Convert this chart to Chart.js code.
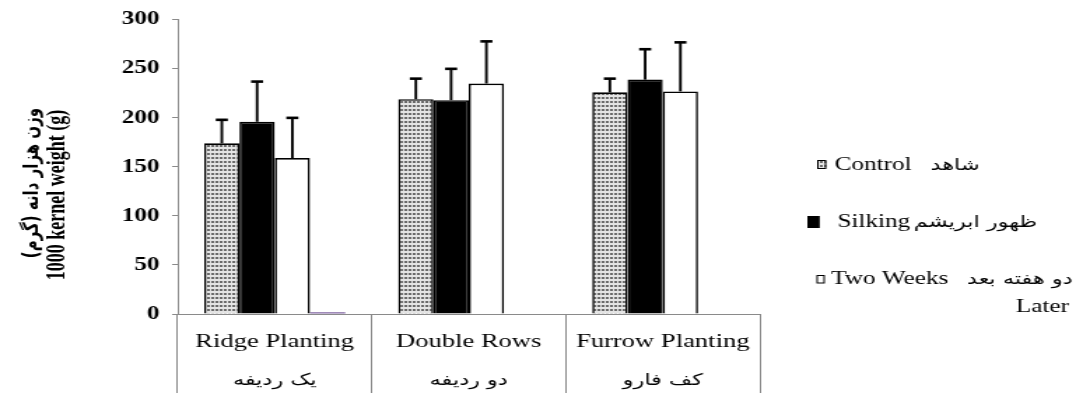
<!DOCTYPE html>
<html>
<head>
<meta charset="utf-8">
<script src="https://cdn.jsdelivr.net/npm/chart.js@4/dist/chart.umd.min.js"></script>
<style>
  html, body { margin: 0; padding: 0; background: #fff; overflow: hidden; width: 1076px; height: 393px; }
  /* the figure is laid out narrow and widened to the full page width */
  #wrap { position: absolute; left: 0; top: 0; width: 769px; height: 393px; transform: scaleX(1.39922); transform-origin: 0 0; }
  canvas { display: block; }
</style>
</head>
<body>
<div id="wrap"><canvas id="chart" width="769" height="393"></canvas></div>
<script>
// Planting methods (English / Persian)
const categoriesEn = ['Ridge Planting', 'Double Rows', 'Furrow Planting'];
const categoriesFa = ['یک ردیفه', 'دو ردیفه', 'کف فارو'];

// 1000 kernel weight (g) per treatment
const controlVals  = [174, 219, 226];
const silkingVals  = [196, 218, 239];
const twoWeeksVals = [159, 235, 227];
const extraVals    = [1.7, 0, 0];

// standard error (upper whisker only)
const controlErr  = [24, 21, 14];
const silkingErr  = [41, 32, 31];
const twoWeeksErr = [41, 43, 50];

const yTicks = [0, 50, 100, 150, 200, 250, 300];

// legend lines: [English, Persian], with an optional wrapped line
const legendEn = ['Control', 'Silking', 'Two Weeks'];
const legendFa = ['شاهد', 'ظهور ابریشم', 'دو هفته بعد'];
const legendWrap = ['', '', 'Later'];

const yTitleEn = '1000 kernel weight (g)';
const yTitleFa = 'وزن هزار دانه (گرم)';

const AXIS = '#8a8a8a';
const SERIF = "'Liberation Serif', 'Times New Roman', serif";
const FA = "'DejaVu Sans', sans-serif";

function dotPattern() {
  const t = document.createElement('canvas');
  t.width = 3; t.height = 4;
  const g = t.getContext('2d');
  g.fillStyle = '#e4e4e4';
  g.fillRect(0, 0, 3, 4);
  g.fillStyle = '#6a6a6a';
  g.fillRect(1, 1, 2, 2);
  return g.createPattern(t, 'repeat');
}
const dots = dotPattern();

const errorBars = {
  id: 'errorBars',
  afterDatasetsDraw(chart) {
    const ctx = chart.ctx;
    const y = chart.scales.y;
    chart.data.datasets.forEach((ds, i) => {
      if (!ds.errors) return;
      const meta = chart.getDatasetMeta(i);
      meta.data.forEach((bar, j) => {
        const top = y.getPixelForValue(ds.data[j] + ds.errors[j]);
        ctx.save();
        ctx.strokeStyle = '#000';
        ctx.lineWidth = 1.9;
        ctx.beginPath();
        ctx.moveTo(bar.x, bar.y);
        ctx.lineTo(bar.x, top);
        ctx.stroke();
        ctx.fillStyle = '#000';
        ctx.fillRect(bar.x - 4.3, top - 1.3, 8.6, 2.6);
        ctx.restore();
      });
    });
  }
};

const sideText = {
  id: 'sideText',
  afterDraw(chart) {
    const ctx = chart.ctx;
    const area = chart.chartArea;
    const xs = chart.scales.x;

    // Persian second line under each category name
    ctx.save();
    ctx.fillStyle = '#000';
    ctx.textAlign = 'center';
    ctx.textBaseline = 'middle';
    ctx.direction = 'rtl';
    ctx.font = '16px ' + FA;
    categoriesFa.forEach((t, i) => ctx.fillText(t, xs.getPixelForValue(i), 381));
    ctx.restore();

    // rotated axis title, two lines
    ctx.save();
    ctx.fillStyle = '#000';
    ctx.textAlign = 'center';
    ctx.textBaseline = 'middle';
    ctx.translate(41, 195);
    ctx.rotate(-Math.PI / 2);
    ctx.font = 'bold 18px ' + SERIF;
    ctx.fillText(yTitleEn, 0, 0);
    ctx.restore();
    ctx.save();
    ctx.fillStyle = '#000';
    ctx.textAlign = 'center';
    ctx.textBaseline = 'middle';
    ctx.direction = 'rtl';
    ctx.translate(23.5, 183);
    ctx.rotate(-Math.PI / 2);
    ctx.font = 'bold 15px ' + FA;
    ctx.fillText(yTitleFa, 0, 0);
    ctx.restore();

    // legend
    const x0 = area.right + 34;
    const rows = [
      { y: 165, box: [x0 + 7, 160, 6.5, 9], en: x0 + 19.5, fa: x0 + 88 },
      { y: 222, box: [x0, 216, 8.6, 12], en: x0 + 21.5, fa: x0 + 76 },
      { y: 279, box: [x0 + 6.5, 275, 6, 8.5], en: x0 + 17, fa: x0 + 114 }
    ];
    const fills = [dots, '#000', '#fff'];
    rows.forEach((r, i) => {
      ctx.save();
      const [bx, by, bw, bh] = r.box;
      ctx.fillStyle = fills[i];
      ctx.fillRect(bx, by, bw, bh);
      ctx.strokeStyle = '#000';
      ctx.lineWidth = 1;
      ctx.strokeRect(bx + 0.5, by + 0.5, bw - 1, bh - 1);
      ctx.fillStyle = '#000';
      ctx.textBaseline = 'middle';
      ctx.textAlign = 'left';
      ctx.font = '18px ' + SERIF;
      ctx.fillText(legendEn[i], r.en, r.y);
      ctx.direction = 'rtl';
      ctx.font = '16px ' + FA;
      ctx.fillText(legendFa[i], r.fa, r.y + 1);
      if (legendWrap[i]) {
        ctx.direction = 'ltr';
        ctx.textAlign = 'right';
        ctx.font = '18px ' + SERIF;
        ctx.fillText(legendWrap[i], chart.width - 5, r.y + 28);
      }
      ctx.restore();
    });
  }
};

new Chart(document.getElementById('chart'), {
  type: 'bar',
  data: {
    labels: categoriesEn,
    datasets: [
      { label: 'Control', data: controlVals, errors: controlErr, backgroundColor: dots, borderColor: '#000', borderWidth: 1.6 },
      { label: 'Silking', data: silkingVals, errors: silkingErr, backgroundColor: '#000', borderColor: '#000', borderWidth: 1.6 },
      { label: 'Two Weeks Later', data: twoWeeksVals, errors: twoWeeksErr, backgroundColor: '#fff', borderColor: '#000', borderWidth: 1.6 },
      { label: '', data: extraVals, backgroundColor: '#8064A2', borderWidth: 0 }
    ]
  },
  options: {
    responsive: false,
    animation: false,
    devicePixelRatio: 1,
    layout: { padding: { top: 17, right: 226, left: 0, bottom: 0 } },
    datasets: { bar: { categoryPercentage: 0.727, barPercentage: 1.0 } },
    plugins: { legend: { display: false }, tooltip: { enabled: false } },
    scales: {
      x: {
        grid: { offset: true, drawOnChartArea: false, drawTicks: true, tickLength: 79, color: AXIS, lineWidth: 1 },
        border: { display: true, color: AXIS, width: 1 },
        ticks: {
          color: '#000',
          padding: -62.4,
          maxRotation: 0,
          autoSkip: false,
          font: { family: SERIF, size: 19, lineHeight: 1.2 }
        },
        afterFit: s => { s.height = 79; }
      },
      y: {
        min: 0, max: 300,
        afterBuildTicks: s => { s.ticks = yTicks.map(v => ({ value: v })); },
        grid: { drawOnChartArea: false, drawTicks: true, tickLength: 4, color: AXIS, lineWidth: 1 },
        border: { display: true, color: AXIS, width: 1 },
        ticks: { color: '#000', padding: 9, font: { family: SERIF, size: 18, weight: 'bold' } },
        afterFit: s => { s.width = 127; }
      }
    }
  },
  plugins: [errorBars, sideText]
});
</script>
</body>
</html>
